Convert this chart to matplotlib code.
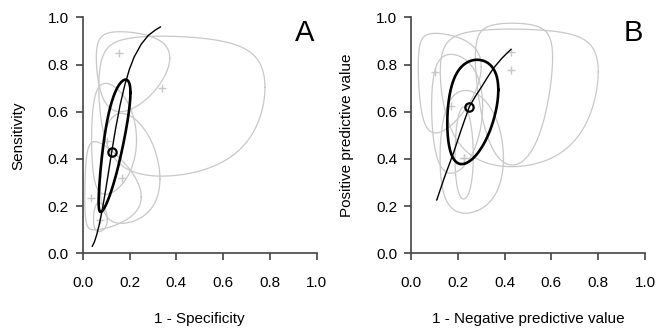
import numpy as np
import matplotlib
matplotlib.use("Agg")
import matplotlib.pyplot as plt

plt.rcParams['font.family'] = ['Liberation Sans', 'DejaVu Sans']

# ---- panel A : sensitivity vs 1 - specificity ----
a_pts_x = [0.157, 0.338, 0.103, 0.169, 0.035, 0.074]
a_pts_y = [0.847, 0.699, 0.477, 0.318, 0.233, 0.141]
# extents of each study region (probability scale)
a_reg_xlo = [0.058, 0.069, 0.038, 0.074, 0.009, 0.046]
a_reg_xhi = [0.372, 0.779, 0.230, 0.330, 0.250, 0.105]
a_reg_ylo = [0.600, 0.327, 0.250, 0.127, 0.099, 0.092]
a_reg_yhi = [0.939, 0.920, 0.720, 0.593, 0.473, 0.215]

a_sroc_x = [0.041, 0.05, 0.06, 0.07, 0.08, 0.09, 0.10, 0.11, 0.124, 0.14, 0.16,
            0.18, 0.20, 0.22, 0.25, 0.28, 0.31, 0.332]
a_sroc_y = [0.030, 0.048, 0.079, 0.119, 0.166, 0.221, 0.280, 0.342, 0.430, 0.525,
            0.629, 0.714, 0.781, 0.832, 0.886, 0.923, 0.946, 0.959]

a_sum = (0.124, 0.430)
a_conf = (0.068, 0.204, 0.175, 0.736, 0.79)   # xlo, xhi, ylo, yhi, rho

# ---- panel B : PPV vs 1 - NPV ----
b_pts_x = [0.103, 0.428, 0.428, 0.171, 0.226, 0.226]
b_pts_y = [0.770, 0.855, 0.777, 0.624, 0.403, 0.403]
b_reg_xlo = [0.031, 0.275, 0.125, 0.088, 0.124, 0.188]
b_reg_xhi = [0.300, 0.605, 0.800, 0.306, 0.395, 0.266]
b_reg_ylo = [0.510, 0.374, 0.367, 0.339, 0.170, 0.230]
b_reg_yhi = [0.932, 0.975, 0.950, 0.843, 0.690, 0.620]

b_sroc_x = [0.110, 0.144, 0.181, 0.214, 0.249, 0.275, 0.302, 0.327, 0.352, 0.388, 0.41, 0.427]
b_sroc_y = [0.226, 0.325, 0.424, 0.522, 0.621, 0.665, 0.706, 0.746, 0.784, 0.826, 0.848, 0.864]

b_sum = (0.249, 0.622)
b_conf = (0.155, 0.373, 0.378, 0.820, 0.30)

GREY = '#c8c8c8'


def logit(p):
    p = np.asarray(p, dtype=float)
    return np.log(p / (1 - p))


def expit(v):
    return 1 / (1 + np.exp(-v))


def region(xlo, xhi, ylo, yhi, rho=0.0, n=240):
    # ellipse on the logit scale, mapped back to probabilities
    lx = logit([xlo, xhi])
    ly = logit([ylo, yhi])
    mx, rx = lx.mean(), (lx[1] - lx[0]) / 2
    my, ry = ly.mean(), (ly[1] - ly[0]) / 2
    t = np.linspace(0, 2 * np.pi, n)
    return expit(mx + rx * np.cos(t)), expit(my + ry * np.cos(t - np.arccos(rho)))


def panel(ax, px, py, xlo, xhi, ylo, yhi, sx, sy, summ, conf, xlabel, ylabel, letter):
    for i in range(len(xlo)):
        ex, ey = region(xlo[i], xhi[i], ylo[i], yhi[i])
        ax.plot(ex, ey, color=GREY, lw=0.9)
    ax.plot(px, py, ls='none', marker='+', ms=6, mew=1.0, color=GREY)
    ax.plot(sx, sy, color='black', lw=1.0)
    cx, cy = region(*conf)
    ax.plot(cx, cy, color='black', lw=1.9)
    ax.plot([summ[0]], [summ[1]], marker='o', ms=6, mfc='none', mec='black', mew=1.6)

    ax.set_xlim(0, 1)
    ax.set_ylim(0, 1)
    ticks = [0.0, 0.2, 0.4, 0.6, 0.8, 1.0]
    ax.set_xticks(ticks)
    ax.set_yticks(ticks)
    ax.set_xticklabels(['%.1f' % t for t in ticks])
    ax.set_yticklabels(['%.1f' % t for t in ticks])
    for s in ['top', 'right']:
        ax.spines[s].set_visible(False)
    for s in ['left', 'bottom']:
        ax.spines[s].set_color('#444444')
        ax.spines[s].set_linewidth(1.2)
    ax.tick_params(axis='both', direction='out', length=5, width=1.2, color='#444444',
                   labelsize=11)
    ax.tick_params(axis='x', pad=11)
    ax.tick_params(axis='y', pad=5)
    ax.set_xlabel(xlabel, fontsize=11)
    ax.set_ylabel(ylabel, fontsize=11)
    ax.xaxis.set_label_coords(0.5, -0.25)
    ax.yaxis.set_label_coords(-0.245, 0.5)
    ax.text(0.95, 0.935, letter, fontsize=21, ha='center', va='center')


fig = plt.figure(figsize=(6.59, 3.29), dpi=100)
axA = fig.add_axes([0.1255, 0.2301, 0.3551, 0.7173])
axB = fig.add_axes([0.6237, 0.2301, 0.3551, 0.7173])

panel(axA, a_pts_x, a_pts_y, a_reg_xlo, a_reg_xhi, a_reg_ylo, a_reg_yhi,
      a_sroc_x, a_sroc_y, a_sum, a_conf, '1 - Specificity', 'Sensitivity', 'A')
panel(axB, b_pts_x, b_pts_y, b_reg_xlo, b_reg_xhi, b_reg_ylo, b_reg_yhi,
      b_sroc_x, b_sroc_y, b_sum, b_conf, '1 - Negative predictive value',
      'Positive predictive value', 'B')

fig.savefig('out.png', dpi=100)
